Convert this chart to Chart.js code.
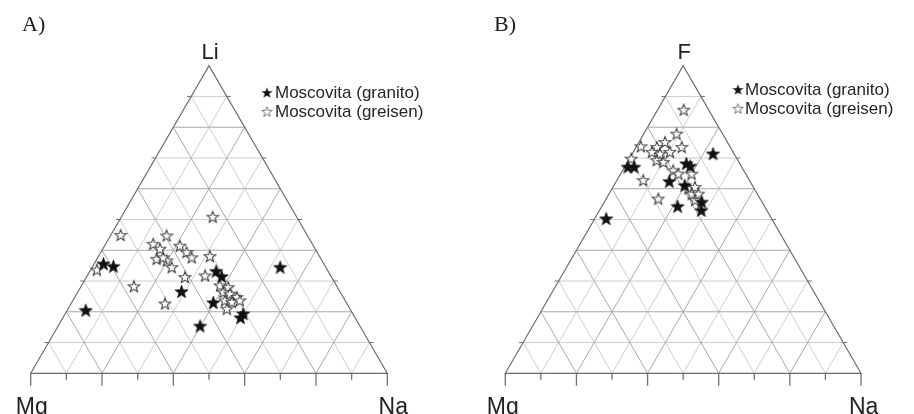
<!DOCTYPE html>
<html lang="es">
<head>
<meta charset="UTF-8">
<title>Diagramas ternarios Li-Mg-Na y F-Mg-Na</title>
<script src="https://cdn.jsdelivr.net/npm/chart.js"></script>
<style>
  html, body { margin: 0; padding: 0; background: #fff; }
  #wrap { position: relative; width: 914px; height: 414px; overflow: hidden; }
  canvas { position: absolute; top: 0; }
  #chartA { left: 0; }
  #chartB { left: 457px; }
</style>
</head>
<body>
<div id="wrap">
  <canvas id="chartA" width="457" height="414"></canvas>
  <canvas id="chartB" width="457" height="414"></canvas>
</div>
<script>
// muestras en % [vertice superior, Mg, Na]
const granitoA = [
  [35.6, 61.8, 2.6], [34.8, 59.4, 5.8], [20.5, 74.3, 5.2], [26.6, 44.4, 29.0],
  [33.2, 31.4, 35.4], [31.5, 30.7, 37.8], [23.0, 37.3, 39.7], [19.4, 30.7, 49.9],
  [18.1, 32.1, 49.8], [15.4, 44.8, 39.8], [34.5, 12.8, 52.7]
];
const greisenA = [
  [50.9, 23.5, 25.6], [45.0, 52.3, 2.7], [44.8, 39.5, 15.7], [42.1, 44.6, 13.3],
  [41.5, 37.4, 21.1], [39.4, 36.6, 24.0], [37.7, 36.0, 26.3], [38.1, 30.7, 31.2],
  [37.2, 46.1, 16.7], [36.7, 43.5, 19.8], [34.5, 43.2, 22.3], [37.7, 44.0, 18.3],
  [40.5, 43.5, 16.0], [31.3, 41.1, 27.6], [31.8, 35.2, 33.0], [28.6, 32.6, 38.8],
  [28.0, 30.6, 41.4], [26.4, 32.8, 40.8], [25.9, 31.2, 42.9], [24.8, 29.8, 45.4],
  [23.7, 33.7, 42.6], [23.2, 32.0, 44.8], [23.7, 29.5, 46.8], [21.0, 34.5, 44.5],
  [22.7, 51.0, 26.3], [33.7, 64.6, 1.7], [28.3, 56.9, 14.8]
];
const granitoB = [
  [71.4, 5.9, 22.7], [67.1, 32.0, 0.9], [67.1, 30.2, 2.7], [68.2, 15.0, 16.8],
  [67.4, 14.3, 18.3], [62.4, 22.7, 14.9], [61.1, 19.0, 19.9], [54.3, 24.4, 21.3],
  [55.7, 16.9, 27.4], [53.0, 18.4, 28.6], [50.3, 46.5, 3.2]
];
const greisenB = [
  [85.7, 7.0, 7.3], [77.9, 12.9, 9.2], [75.2, 17.5, 7.3], [73.8, 25.0, 1.2],
  [73.6, 20.6, 5.8], [73.6, 13.6, 12.8], [71.4, 20.8, 7.8], [72.0, 17.7, 10.3],
  [69.3, 22.8, 7.9], [68.7, 21.2, 10.1], [66.0, 19.8, 14.2], [64.9, 18.9, 16.2],
  [64.9, 15.2, 19.9], [62.8, 29.8, 7.4], [60.1, 18.5, 21.4], [60.6, 16.4, 23.0],
  [58.4, 18.4, 23.2], [56.3, 18.5, 25.2], [56.8, 28.6, 14.6], [69.8, 29.7, 0.5],
  [58.4, 16.5, 25.1], [72.0, 22.8, 5.2]
];
const legendLabels = ['Moscovita (granito)', 'Moscovita (greisen)'];

const SQ = Math.sqrt(3) / 2;

function toXY(p) {
  const s = p[0] + p[1] + p[2];
  const top = p[0] / s, na = p[2] / s;
  return { x: na + top / 2, y: top * SQ };
}

function starCanvas(size, ro, ri, fill, stroke, lw) {
  const c = document.createElement('canvas');
  c.width = size; c.height = size;
  const g = c.getContext('2d');
  const cx = size / 2, cy = size / 2 + 0.6;
  g.beginPath();
  for (let i = 0; i < 10; i++) {
    const r = i % 2 ? ri : ro;
    const a = -Math.PI / 2 + i * Math.PI / 5;
    g.lineTo(cx + r * Math.cos(a), cy + r * Math.sin(a));
  }
  g.closePath();
  g.fillStyle = fill;
  g.fill();
  if (stroke) { g.strokeStyle = stroke; g.lineWidth = lw; g.stroke(); }
  return c;
}

const filledStar = starCanvas(15, 7, 2.9, '#111', '#111', 0.6);
const openStar = starCanvas(14, 6, 2.5, '#fff', '#444', 1.1);
const filledStarSmall = starCanvas(13, 5.8, 2.4, '#111', null, 0);
const openStarSmall = starCanvas(13, 5.4, 2.2, '#fff', '#666', 0.9);

const ternaryPlugin = {
  id: 'ternary',
  beforeDatasetsDraw(chart, args, o) {
    const { ctx, scales: { x, y } } = chart;
    const P = (top, na) => [x.getPixelForValue(na + top / 2), y.getPixelForValue(top * SQ)];
    const seg = (a, b, col, lw) => {
      ctx.beginPath();
      ctx.moveTo(a[0], a[1]);
      ctx.lineTo(b[0], b[1]);
      ctx.strokeStyle = col;
      ctx.lineWidth = lw;
      ctx.stroke();
    };
    ctx.save();
    // odd tenths first (light), even tenths on top (darker)
    [1, 0].forEach(par => {
      for (let i = 1; i < 10; i++) {
        if (i % 2 !== par) continue;
        const t = i / 10;
        const col = par ? '#cdcdcd' : '#a8a8a8';
        seg(P(0, t), P(1 - t, t), col, 1);
        seg(P(0, 1 - t), P(1 - t, 0), col, 1);
        seg(P(t, 0), P(t, 1 - t), col, 1);
      }
    });
    ctx.beginPath();
    const a = P(0, 0), b = P(0, 1), c = P(1, 0);
    ctx.moveTo(a[0], a[1]); ctx.lineTo(b[0], b[1]); ctx.lineTo(c[0], c[1]); ctx.closePath();
    ctx.strokeStyle = '#6a6a6a'; ctx.lineWidth = 1.2; ctx.stroke();
    for (let i = 0; i <= 10; i++) {
      const p = P(0, i / 10);
      seg(p, [p[0], p[1] + (i % 2 ? 6.5 : 12.5)], '#707070', 1.3);
    }
    for (let i = 1; i < 10; i += 2) {
      const t = i / 10;
      const l = P(t, 0), r = P(t, 1 - t);
      seg(l, [l[0] - 4, l[1]], '#707070', 1);
      seg(r, [r[0] + 4, r[1]], '#707070', 1);
    }
    ctx.restore();
  },
  afterDraw(chart, args, o) {
    const { ctx, scales: { x, y } } = chart;
    const apexX = x.getPixelForValue(0.5), apexY = y.getPixelForValue(SQ);
    const baseY = y.getPixelForValue(0);
    ctx.save();
    ctx.fillStyle = '#222';
    ctx.font = '22px "Liberation Serif", serif';
    ctx.textAlign = 'left';
    ctx.textBaseline = 'alphabetic';
    ctx.fillText(o.panel, o.panelX, 31);
    ctx.font = '22px "Liberation Sans", Arial, sans-serif';
    ctx.textAlign = 'center';
    ctx.fillText(o.top, apexX + 1, apexY - 6.5);
    ctx.font = '23px "Liberation Sans", Arial, sans-serif';
    ctx.fillText('Mg', x.getPixelForValue(0) + o.mgDx, baseY + 40.5);
    ctx.fillText('Na', x.getPixelForValue(1) + o.naDx, baseY + 40.5);
    ctx.font = '17px "Liberation Sans", Arial, sans-serif';
    ctx.textAlign = 'left';
    ctx.fillStyle = '#262626';
    ctx.drawImage(filledStarSmall, o.legX - 6.5, o.legY - 12);
    ctx.drawImage(openStarSmall, o.legX - 6.5, o.legY + 7);
    ctx.fillText(legendLabels[0], o.legTextX, o.legY);
    ctx.fillText(legendLabels[1], o.legTextX, o.legY + 19);
    ctx.restore();
  }
};

function makeChart(id, granito, greisen, opts, pad) {
  return new Chart(document.getElementById(id), {
    type: 'scatter',
    data: {
      datasets: [
        { label: legendLabels[0], data: granito.map(toXY), pointStyle: filledStar, clip: false },
        { label: legendLabels[1], data: greisen.map(toXY), pointStyle: openStar, clip: false }
      ]
    },
    options: {
      responsive: false,
      animation: false,
      devicePixelRatio: 1,
      layout: { padding: pad },
      scales: {
        x: { type: 'linear', min: 0, max: 1, display: false },
        y: { type: 'linear', min: 0, max: SQ, display: false }
      },
      plugins: {
        legend: { display: false },
        tooltip: { enabled: false },
        ternary: opts
      }
    },
    plugins: [ternaryPlugin]
  });
}

makeChart('chartA', granitoA, greisenA,
  { top: 'Li', panel: 'A)', panelX: 22, mgDx: 1, naDx: 6, legX: 267, legY: 98, legTextX: 275 },
  { left: 30.7, right: 69.7, top: 65.7, bottom: 40.7 });

makeChart('chartB', granitoB, greisenB,
  { top: 'F', panel: 'B)', panelX: 37, mgDx: -2.5, naDx: 2.7, legX: 281, legY: 95, legTextX: 288 },
  { left: 48.3, right: 53, top: 65.7, bottom: 40.7 });
</script>
</body>
</html>
